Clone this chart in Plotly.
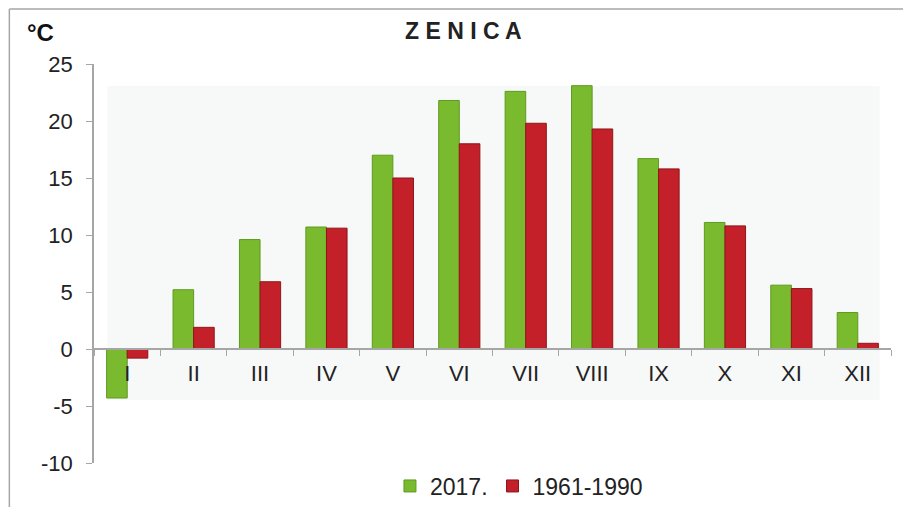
import plotly.graph_objects as go

months = ["I", "II", "III", "IV", "V", "VI", "VII", "VIII", "IX", "X", "XI", "XII"]
t2017 = [-4.3, 5.2, 9.6, 10.7, 17.0, 21.8, 22.6, 23.1, 16.7, 11.1, 5.6, 3.2]
t1961_1990 = [-0.8, 1.9, 5.9, 10.6, 15.0, 18.0, 19.8, 19.3, 15.8, 10.8, 5.3, 0.5]
series_names = ["2017.", "1961-1990"]
y_ticks = [-10, -5, 0, 5, 10, 15, 20, 25]
y_tick_text = ["-10", "-5", "0", "5", "10", "15", "20", "25"]

ymin, ymax = -10, 25
# the page body adds an 8px margin, so the figure is drawn 8px in from the window edge
W, H = 903, 499
L, T = 85.5, 56
pw, ph = 798, 399
R, B = W - L - pw, H - T - ph


def px(fx):
    return (fx - L) / pw


def py(fy):
    return (T + ph - fy) / ph


fig = go.Figure()
fig.add_bar(x=months, y=t2017, name=series_names[0],
            marker=dict(color="#7aba2e", line=dict(color="#5f9a20", width=1)))
fig.add_bar(x=months, y=t1961_1990, name=series_names[1],
            marker=dict(color="#c3202a", line=dict(color="#8e1519", width=1)))

font = "Liberation Sans, Arial, sans-serif"
zero_pos = (0 - ymin) / (ymax - ymin)

fig.update_layout(
    width=W, height=H,
    margin=dict(l=L, r=R, t=T, b=B, autoexpand=False),
    paper_bgcolor="white", plot_bgcolor="white",
    barmode="group", bargap=0.38, bargroupgap=0.0,
    font=dict(family=font, size=22, color="#222"),
    showlegend=True,
    legend=dict(orientation="h", x=px(511), xanchor="center", y=py(478), yanchor="middle",
                bgcolor="rgba(0,0,0,0)", font=dict(size=23, color="#222"),
                itemwidth=30, traceorder="normal"),
    xaxis=dict(anchor="free", position=zero_pos, showline=True, linecolor="#a6a6a6", linewidth=2,
               ticks="outside", tickson="boundaries", ticklen=6, tickcolor="#a6a6a6", tickwidth=1,
               ticklabelstandoff=5,
               tickfont=dict(size=22, color="#222"), showgrid=False, zeroline=False),
    yaxis=dict(range=[ymin, ymax], tickvals=y_ticks, ticktext=y_tick_text, showline=True,
               linecolor="#a6a6a6", linewidth=1.5, ticks="outside", ticklen=6, tickcolor="#a6a6a6",
               showgrid=False, zeroline=False, ticklabelstandoff=9,
               tickfont=dict(size=22, color="#222")),
    shapes=[
        dict(type="rect", xref="paper", yref="paper",
             x0=px(99), x1=px(872), y0=py(392), y1=py(78),
             fillcolor="#f7f8f8", line=dict(width=0), layer="below"),
        dict(type="line", xref="paper", yref="paper",
             x0=px(0.75), x1=px(0.75), y0=py(1), y1=py(H + 5),
             line=dict(color="#a6a6a6", width=1.5)),
        dict(type="line", xref="paper", yref="paper",
             x0=px(0.75), x1=px(W + 5), y0=py(1), y1=py(1),
             line=dict(color="#a6a6a6", width=1.5)),
    ],
    annotations=[
        dict(text="<b>Z E N I C A</b>", xref="paper", yref="paper",
             x=px(455.5), y=py(23), showarrow=False,
             xanchor="center", yanchor="middle", font=dict(size=23, color="#222")),
        dict(text="<b>°C</b>", xref="paper", yref="paper",
             x=px(32), y=py(24), showarrow=False,
             xanchor="center", yanchor="middle", font=dict(size=24, color="#111")),
    ],
)

fig.write_html("out.html")
